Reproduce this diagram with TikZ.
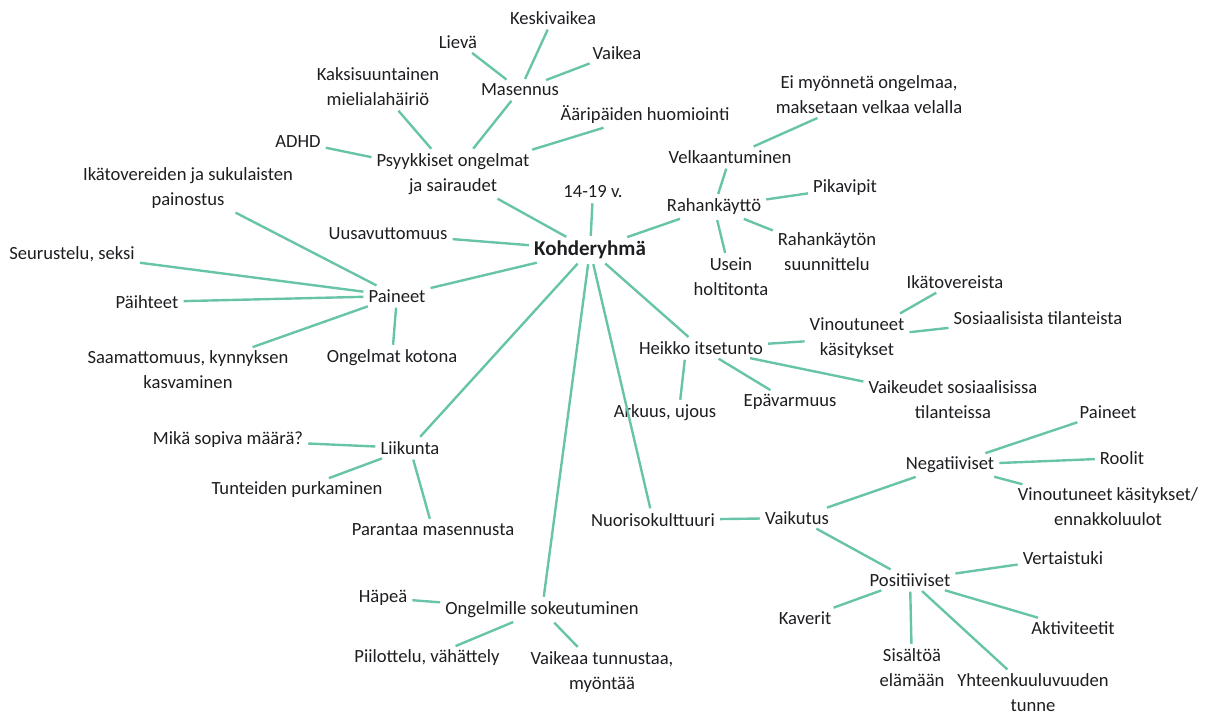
\documentclass[tikz,border=0pt]{standalone}
\usepackage{fontspec}
\setmainfont{Carlito}
\definecolor{linkgreen}{RGB}{104,196,168}
\definecolor{inkgray}{RGB}{30,30,34}
\tikzset{
  topic/.style={align=center, inner sep=3pt, text=inkgray, font=\fontsize{18.6}{25}\selectfont},
  hub/.style={topic, font=\fontsize{21}{25}\selectfont\bfseries},
  link/.style={draw=linkgreen, line width=2.4pt, shorten <=2pt, shorten >=2pt}
}
\begin{document}
\begin{tikzpicture}[x=1pt,y=-1pt]
    \useasboundingbox (0,0) rectangle (1209,718);

    % Centre of the map
    \node[hub] (koh) at (590,250) {Kohderyhmä};
    \node[topic] (ika) at (593,192) {14-19 v.};

    % Psychological problems
    \node[topic] (psy) at (453,174) {Psyykkiset ongelmat\\ja sairaudet};
    \node[topic] (mas) at (520,90) {Masennus};
    \node[topic] (lie) at (458,42) {Lievä};
    \node[topic] (kes) at (553,18) {Keskivaikea};
    \node[topic] (vai) at (617,53) {Vaikea};
    \node[topic] (aar) at (645,115) {Ääripäiden huomiointi};
    \node[topic] (kak) at (378,87) {Kaksisuuntainen\\mielialahäiriö};
    \node[topic] (adh) at (298,142) {ADHD};

    % Pressures
    \node[topic] (uus) at (388,234) {Uusavuttomuus};
    \node[topic] (pai) at (397,296) {Paineet};
    \node[topic] (ikv) at (188,188) {Ikätovereiden ja sukulaisten\\painostus};
    \node[topic] (seu) at (72,254) {Seurustelu, seksi};
    \node[topic] (pah) at (147,302) {Päihteet};
    \node[topic] (saa) at (188,370) {Saamattomuus, kynnyksen\\kasvaminen};
    \node[topic] (kot) at (392,358) {Ongelmat kotona};

    % Exercise
    \node[topic] (lii) at (410,448) {Liikunta};
    \node[topic] (mik) at (228,440) {Mikä sopiva määrä?};
    \node[topic] (tun) at (297,490) {Tunteiden purkaminen};
    \node[topic] (par) at (433,530) {Parantaa masennusta};

    % Blindness to problems
    \node[topic] (sok) at (542,610) {Ongelmille sokeutuminen};
    \node[topic] (hap) at (383,598) {Häpeä};
    \node[topic] (pii) at (427,658) {Piilottelu, vähättely};
    \node[topic] (vtu) at (602,672) {Vaikeaa tunnustaa,\\myöntää};

    % Youth culture
    \node[topic] (nuo) at (653,520) {Nuorisokulttuuri};
    \node[topic] (vak) at (797,518) {Vaikutus};
    \node[topic] (neg) at (950,465) {Negatiiviset};
    \node[topic] (pai2) at (1108,412) {Paineet};
    \node[topic] (roo) at (1122,458) {Roolit};
    \node[topic] (vin2) at (1108,507) {Vinoutuneet käsitykset/\\ennakkoluulot};
    \node[topic] (pos) at (910,580) {Positiiviset};
    \node[topic] (ver) at (1063,558) {Vertaistuki};
    \node[topic] (akt) at (1073,628) {Aktiviteetit};
    \node[topic] (kav) at (805,618) {Kaverit};
    \node[topic] (sis) at (912,668) {Sisältöä\\elämään};
    \node[topic] (yht) at (1033,693) {Yhteenkuuluvuuden\\tunne};

    % Low self-esteem
    \node[topic] (hei) at (701,348) {Heikko itsetunto};
    \node[topic] (ark) at (665,413) {Arkuus, ujous};
    \node[topic] (epa) at (790,402) {Epävarmuus};
    \node[topic] (vin) at (857,338) {Vinoutuneet\\käsitykset};
    \node[topic] (ikt) at (955,282) {Ikätovereista};
    \node[topic] (sos) at (1038,318) {Sosiaalisista tilanteista};
    \node[topic] (vso) at (953,400) {Vaikeudet sosiaalisissa\\tilanteissa};

    % Spending money
    \node[topic] (rah) at (714,207) {Rahankäyttö};
    \node[topic] (vel) at (730,157) {Velkaantuminen};
    \node[topic] (eim) at (869,95) {Ei myönnetä ongelmaa,\\maksetaan velkaa velalla};
    \node[topic] (pik) at (845,188) {Pikavipit};
    \node[topic] (ras) at (827,252) {Rahankäytön\\suunnittelu};
    \node[topic] (use) at (731,277) {Usein\\holtitonta};

    % Connect the topics
    \foreach \a/\b in {koh/psy, koh/ika, koh/uus, koh/pai, koh/lii, koh/sok, koh/nuo, koh/hei, koh/rah,
                      psy/adh, psy/kak, psy/mas, psy/aar, mas/lie, mas/kes, mas/vai,
                      pai/ikv, pai/seu, pai/pah, pai/saa, pai/kot,
                      lii/mik, lii/tun, lii/par,
                      sok/hap, sok/pii, sok/vtu,
                      nuo/vak, vak/neg, vak/pos, neg/pai2, neg/roo, neg/vin2,
                      pos/ver, pos/akt, pos/kav, pos/sis, pos/yht,
                      hei/epa, hei/vin, hei/vso, vin/ikt, vin/sos,
                      rah/vel, rah/pik, rah/ras, rah/use, vel/eim}
        \draw[link] (\a) -- (\b);
    \draw[link] ([xshift=-16pt]hei.south) -- ([xshift=15pt]ark.north);
\end{tikzpicture}
\end{document}
